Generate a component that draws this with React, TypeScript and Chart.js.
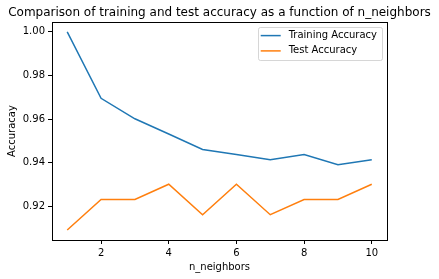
import React, { useEffect, useRef } from "react";
import { Chart, registerables } from "chart.js";

Chart.register(...registerables);

const neighbors = [1, 2, 3, 4, 5, 6, 7, 8, 9, 10];
const trainAccuracy = [1.0, 0.9695, 0.9601, 0.9531, 0.946, 0.9437, 0.9413, 0.9437, 0.939, 0.9413];
const testAccuracy = [0.9091, 0.9231, 0.9231, 0.9301, 0.9161, 0.9301, 0.9161, 0.9231, 0.9231, 0.9301];
const xTicks = [2, 4, 6, 8, 10];
const yTicks = [0.92, 0.94, 0.96, 0.98, 1.0];
const seriesLabels = ["Training Accuracy", "Test Accuracy"];
const seriesColors = ["#1f77b4", "#ff7f0e"];
const chartTitle = "Comparison of training and test accuracy as a function of n_neighbors";

const FONT = '"DejaVu Sans", sans-serif';

const titlePlugin = {
  id: "mplTitle",
  afterDraw(chart: any) {
    const { ctx, chartArea: a } = chart;
    ctx.save();
    ctx.font = `12px ${FONT}`;
    ctx.fillStyle = "#000";
    ctx.textAlign = "center";
    ctx.textBaseline = "alphabetic";
    ctx.fillText(chartTitle, (a.left + a.right) / 2, a.top - 6);
    ctx.restore();
  },
};

const framePlugin = {
  id: "frame",
  afterDatasetsDraw(chart: any) {
    const { ctx, chartArea: a } = chart;
    ctx.save();
    ctx.strokeStyle = "#000";
    ctx.lineWidth = 1;
    const l = Math.floor(a.left) + 0.5;
    const t = Math.floor(a.top) + 0.5;
    const r = Math.floor(a.right) + 0.5;
    const b = Math.floor(a.bottom) + 0.5;
    ctx.strokeRect(l, t, r - l, b - t);
    ctx.restore();
  },
};

const legendPlugin = {
  id: "mplLegend",
  afterDraw(chart: any) {
    const { ctx, chartArea: a } = chart;
    const ds = chart.data.datasets;
    ctx.save();
    ctx.font = `10px ${FONT}`;
    const tw = Math.max(...ds.map((d: any) => ctx.measureText(d.label).width));
    const w = 3 + 20 + 8 + tw + 5;
    const h = 33;
    const right = a.right - 5;
    const top = a.top + 5;
    const left = right - w;
    ctx.beginPath();
    (ctx as any).roundRect(Math.round(left) + 0.5, Math.round(top) + 0.5, Math.round(w), h, 2);
    ctx.fillStyle = "rgba(255,255,255,0.8)";
    ctx.fill();
    ctx.strokeStyle = "rgba(204,204,204,0.8)";
    ctx.lineWidth = 1;
    ctx.stroke();
    ds.forEach((d: any, i: number) => {
      const y = top + 8.6 + i * 15.3;
      ctx.beginPath();
      ctx.strokeStyle = d.borderColor;
      ctx.lineWidth = 1.5;
      ctx.moveTo(left + 3, y);
      ctx.lineTo(left + 23, y);
      ctx.stroke();
      ctx.fillStyle = "#000";
      ctx.textBaseline = "middle";
      ctx.textAlign = "left";
      ctx.fillText(d.label, left + 31, y);
    });
    ctx.restore();
  },
};

export default function App() {
  const ref = useRef<HTMLCanvasElement | null>(null);

  useEffect(() => {
    document.body.style.margin = "0";
    const canvas = ref.current;
    if (!canvas) return;
    const series = [trainAccuracy, testAccuracy];
    const chart = new Chart(canvas, {
      type: "line",
      data: {
        datasets: series.map((vals, i) => ({
          label: seriesLabels[i],
          data: neighbors.map((n, j) => ({ x: n, y: vals[j] })),
          borderColor: seriesColors[i],
          backgroundColor: seriesColors[i],
          borderWidth: 1.5,
          pointRadius: 0,
          tension: 0,
          fill: false,
        })),
      },
      options: {
        responsive: false,
        animation: false,
        devicePixelRatio: 1,
        layout: { padding: { left: 0, right: 52, top: 22, bottom: 0 } },
        plugins: {
          legend: { display: false },
          tooltip: { enabled: false },
          title: { display: false },
        },
        scales: {
          x: {
            type: "linear",
            min: 0.55,
            max: 10.45,
            afterBuildTicks: (s: any) => {
              s.ticks = xTicks.map((v) => ({ value: v }));
            },
            afterFit: (s: any) => {
              s.height = 39;
            },
            ticks: {
              color: "#000",
              font: { family: FONT, size: 10 },
              padding: 3,
              maxRotation: 0,
              callback: (v: any) => String(v),
            },
            grid: {
              display: true,
              drawOnChartArea: false,
              drawTicks: true,
              tickLength: 4,
              tickColor: "#000",
              tickWidth: 1,
            },
            border: { display: false },
            title: {
              display: true,
              text: "n_neighbors",
              color: "#000",
              font: { family: FONT, size: 10, lineHeight: 1.2 },
              padding: { top: 4, bottom: 5.5 },
            },
          },
          y: {
            type: "linear",
            min: 0.9045,
            max: 1.0045,
            afterBuildTicks: (s: any) => {
              s.ticks = yTicks.map((v) => ({ value: v }));
            },
            afterFit: (s: any) => {
              s.width = 52;
            },
            ticks: {
              color: "#000",
              font: { family: FONT, size: 10 },
              padding: 3,
              callback: (v: any) => Number(v).toFixed(2),
            },
            grid: {
              display: true,
              drawOnChartArea: false,
              drawTicks: true,
              tickLength: 4,
              tickColor: "#000",
              tickWidth: 1,
            },
            border: { display: false },
            title: {
              display: true,
              text: "Accuracay",
              color: "#000",
              font: { family: FONT, size: 10, lineHeight: 1.2 },
              padding: { top: 6, bottom: 4 },
            },
          },
        },
      },
      plugins: [framePlugin, legendPlugin, titlePlugin],
    } as any);
    return () => chart.destroy();
  }, []);

  return <canvas ref={ref} width={439} height={279} style={{ display: "block", width: 439, height: 279 }} />;
}
